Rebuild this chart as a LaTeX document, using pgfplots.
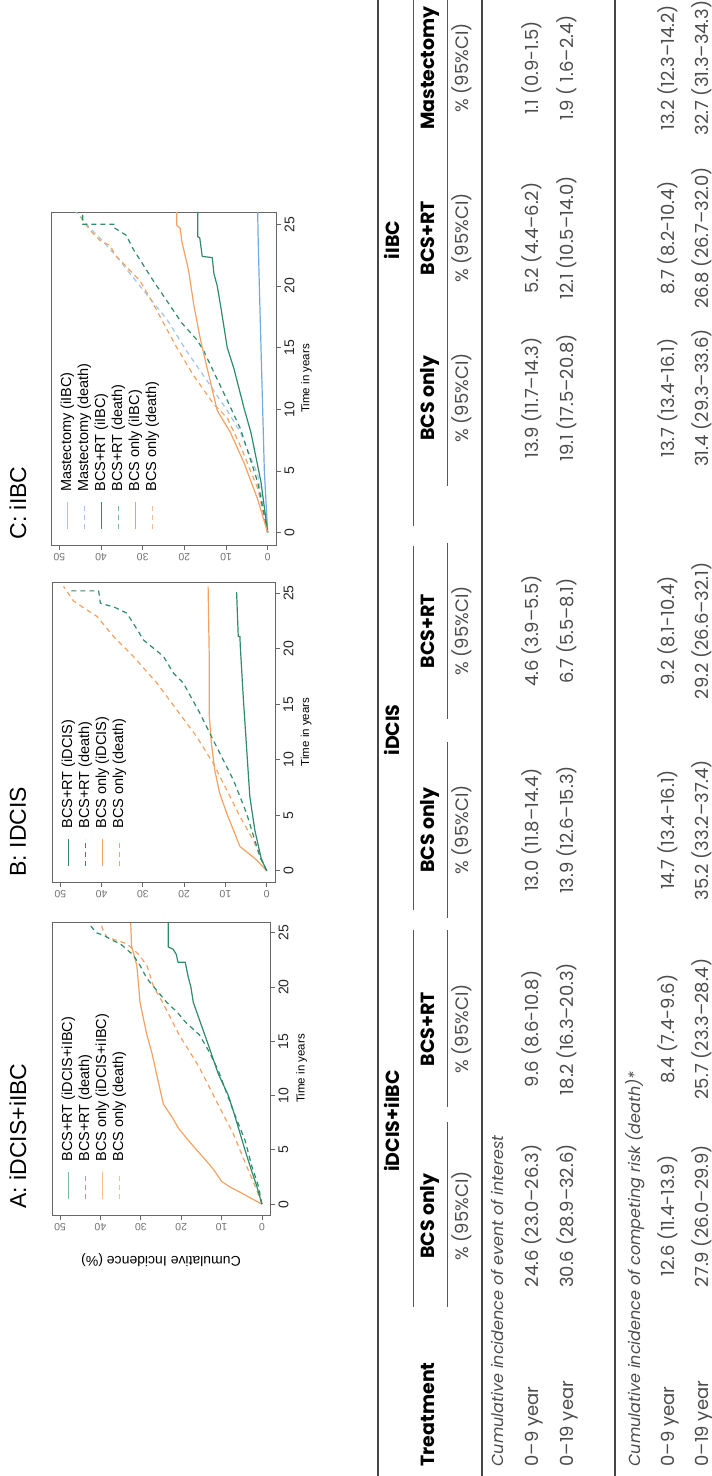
\documentclass[border=0pt]{standalone}
\usepackage{graphicx}
\usepackage{fontspec}
\usepackage{pgfplots}
\pgfplotsset{compat=1.18}
\newfontfamily\arial{Liberation Sans}
\newfontfamily\pop{Poppins}
\definecolor{cgreen}{RGB}{46,139,108}
\definecolor{corange}{RGB}{244,162,97}
\definecolor{cblue}{RGB}{116,169,222}
\definecolor{lgreen}{RGB}{120,186,160}
\definecolor{lorange}{RGB}{247,190,145}
\definecolor{lblue}{RGB}{160,196,236}
\definecolor{rulec}{RGB}{70,70,70}
\pgfplotsset{
  rplot/.style={
    scale only axis, anchor=origin,
    xmin=-1, xmax=26, ymin=-2, ymax=52,
    xtick={0,5,10,15,20,25}, ytick={0,10,20,30,40,50},
    tick pos=left, tick align=outside, major tick length=5pt,
    axis line style={draw=black!60, line width=0.8pt},
    tick style={draw=black!60, line width=0.8pt},
    /pgf/number format/assume math mode=true,
    xticklabel style={font=\arial\fontsize{14}{14}\selectfont, text=black!85},
    yticklabel style={font=\arial\fontsize{10.5}{10.5}\selectfont, text=black!55, rotate=90, anchor=south},
    legend image code/.code={\draw[#1] (0pt,0pt) -- (27pt,0pt);},
    legend cell align=left,
    legend style={draw=none, fill=none, inner sep=0pt, column sep=10pt, row sep=4pt,
      font=\arial\fontsize{14.5}{15}\selectfont,
      nodes={inner sep=0pt, text height=10pt, text depth=3pt, font=\arial\fontsize{14.5}{15}\selectfont}},
    every axis plot/.append style={line width=1.2pt, line join=round},
  },
  sol/.style={solid},
  das/.style={dash pattern=on 5pt off 4pt},
}
\begin{document}
\rotatebox{90}{%
\begin{tikzpicture}[x=1pt,y=1pt]
\path[use as bounding box] (0,0) rectangle (1476,-712);
\clip (0,0) rectangle (1476,-712);
% ---------- titles ----------
\node[anchor=west, font=\arial\fontsize{23}{23}\selectfont] at (264,-18) {A: iDCIS+iIBC};
\node[anchor=west, font=\arial\fontsize{23}{23}\selectfont] at (596,-18) {B: IDCIS};
\node[anchor=west, font=\arial\fontsize{23}{23}\selectfont] at (933,-18) {C: iIBC};
% ---------- panel A ----------
\begin{scope}[shift={(271.85,-261.93)}]
\begin{axis}[rplot, width=293pt, height=218pt,
  xlabel={Time in years},
  x label style={at={(axis description cs:0.5,-0.145)}, anchor=center, font=\arial\fontsize{11.5}{11.5}\selectfont},
  ylabel={Cumulative Incidence (\%)},
  y label style={at={(axis description cs:-0.154,0.5)}, anchor=center, font=\arial\fontsize{14}{14}\selectfont},
  legend style={at={(axis description cs:0.051,0.955)}, anchor=north west}]
\addlegendimage{lgreen, sol, line width=1.2pt}\addlegendentry{BCS+RT (iDCIS+iIBC)}
\addlegendimage{lgreen, das, line width=1.2pt}\addlegendentry{BCS+RT (death)}
\addlegendimage{lorange, sol, line width=1.2pt}\addlegendentry{BCS only (iDCIS+iIBC)}
\addlegendimage{lorange, das, line width=1.2pt}\addlegendentry{BCS only (death)}
\addplot[corange, sol, forget plot] coordinates {(0,0) (0.5,2.5) (1.1,5.4) (1.6,8) (2.1,10) (3.2,12) (4,13.8) (5,16.2) (6,18.5) (7,20.7) (8,22.2) (9.2,24.4) (10.5,25.2) (12,26.1) (14,27.3) (15.6,28.5) (17,29.3) (18.6,30.2) (20,30.5) (22,31) (23,31.7) (23.8,32.3) (25.9,32.5)};
\addplot[corange, das, forget plot] coordinates {(0,0) (1.5,1.5) (3.5,3.8) (6.5,7.1) (9.5,11.3) (12.6,15.5) (15.6,20.5) (18.6,24.6) (20,26.8) (22,28.5) (23,30.5) (24,33.5) (24.6,38.4) (25.2,39.3) (25.9,40)};
\addplot[cgreen, das, forget plot] coordinates {(0,0) (1.7,0.9) (3.5,2.5) (5.9,4.2) (8.6,7.1) (10,8.5) (12.3,10.8) (14,13) (15.6,15.5) (16.8,19) (17.7,21) (18.6,23.6) (20.8,28.5) (22,30.2) (23,32) (24,35.1) (24.3,37) (24.8,39.3) (25,41) (25.9,43)};
\addplot[cgreen, sol, forget plot] coordinates {(0,0) (1.7,1.3) (3,2.5) (5,4.2) (7,5.8) (8.6,7.1) (10,8.3) (12,10.8) (13.5,12.2) (14.7,13.3) (16.8,15.3) (18.6,17) (20,17.6) (21,18.3) (22.3,19) (22.3,20.8) (23,21.2) (23.5,22) (23.7,23.2) (25.9,23.2)};
\end{axis}
\end{scope}
% ---------- panel B ----------
\begin{scope}[shift={(605.11,-266.74)}]
\begin{axis}[rplot, width=300pt, height=223pt,
  xlabel={Time in years},
  x label style={at={(axis description cs:0.5,-0.14)}, anchor=center, font=\arial\fontsize{11.5}{11.5}\selectfont},
  legend style={at={(axis description cs:0.05,0.956)}, anchor=north west}]
\addlegendimage{cgreen, sol, line width=1.2pt}\addlegendentry{BCS+RT (iDCIS)}
\addlegendimage{cgreen, das, line width=1.2pt}\addlegendentry{BCS+RT (death)}
\addlegendimage{corange, sol, line width=1.2pt}\addlegendentry{BCS only (iDCIS)}
\addlegendimage{corange, das, line width=1.2pt}\addlegendentry{BCS only (death)}
\addplot[corange, sol, forget plot] coordinates {(0,0) (1,2.5) (2.2,6.5) (3.7,8.1) (5.2,9.7) (7,11.4) (9.1,12.6) (11.5,13.4) (13.9,13.9) (18.7,13.9) (25.6,14.2)};
\addplot[corange, das, forget plot] coordinates {(0,0) (2.8,3.3) (4.9,6.5) (7.3,9.7) (9.7,13) (12.1,17) (14.5,21.8) (16.9,26.6) (19.3,32.3) (21.1,37.1) (22.9,41.1) (23.7,44.4) (24.3,46.8) (25.6,49.2)};
\addplot[cgreen, das, forget plot] coordinates {(0,0) (1.2,1.6) (5.2,4.9) (8.2,8.1) (11.8,13) (14.2,16.2) (16.9,20.2) (17.8,22.6) (19.3,25) (20.8,29.9) (21.5,31) (23.2,33.9) (23.7,36.7) (24.1,40.3) (25.2,40.7) (25.2,47.6)};
\addplot[cgreen, sol, forget plot] coordinates {(0,0) (1.05,1.3) (3.7,2.9) (6.7,4.1) (11.2,4.9) (15.7,5.7) (20.2,6.4) (21.1,6.5) (21.1,6.9) (25.1,7.3)};
\end{axis}
\end{scope}
% ---------- panel C ----------
\begin{scope}[shift={(943.33,-267.67)}]
\begin{axis}[rplot, width=333pt, height=225pt,
  xlabel={Time in years},
  x label style={at={(axis description cs:0.5,-0.135)}, anchor=center, font=\arial\fontsize{11.5}{11.5}\selectfont},
  legend style={at={(axis description cs:0.045,0.956)}, anchor=north west}]
\addlegendimage{lblue, sol, line width=1.2pt}\addlegendentry{Mastectomy (iIBC)}
\addlegendimage{lblue, das, line width=1.2pt}\addlegendentry{Mastectomy (death)}
\addlegendimage{cgreen, sol, line width=1.2pt}\addlegendentry{BCS+RT (iIBC)}
\addlegendimage{lgreen, das, line width=1.2pt}\addlegendentry{BCS+RT (death)}
\addlegendimage{corange, sol, line width=1.2pt}\addlegendentry{BCS only (iIBC)}
\addlegendimage{lorange, das, line width=1.2pt}\addlegendentry{BCS only (death)}
\addplot[cblue, sol, forget plot] coordinates {(0,0) (5,0.8) (10,1.2) (15,1.6) (20,2) (24.1,2.3) (26,2.4)};
\addplot[lblue, das, forget plot] coordinates {(0,0) (4.7,2.4) (8.1,6.5) (9.9,9.7) (11.9,13.7) (14.7,19.4) (17.3,24.2) (19.3,29) (20.7,32.3) (22.4,36.3) (23.9,40.3) (24.7,42.7) (26,46)};
\addplot[corange, das, forget plot] coordinates {(0,0) (3.6,2.4) (7,6.5) (9.3,9.7) (10.4,12.9) (12.7,17.7) (15,21.8) (17,25) (19,28.2) (20.4,30.6) (22.4,36.3) (23.3,37.9) (23.7,40.3) (24.4,42.3) (25.3,44.4) (25.9,45.2)};
\addplot[cgreen, das, forget plot] coordinates {(0,0) (4.1,2.4) (8.4,6.5) (11.3,10.5) (14.7,15.3) (15.6,16.9) (17,20.6) (19,24.6) (20.4,27.4) (22.1,30.6) (23,32.3) (24.1,33.9) (24.7,36.7) (25,36.7) (25,44.4) (25.9,44.4)};
\addplot[cgreen, sol, forget plot] coordinates {(0,0) (4.1,1.6) (8.1,4) (10,5.6) (13.3,8.1) (15,9.7) (18.4,11.3) (20,12.1) (21,12.9) (22.3,13.3) (22.4,15.7) (23.9,16.3) (24,16.8) (26,16.8)};
\addplot[corange, sol, forget plot] coordinates {(0,0) (2.7,2.4) (5.6,5.6) (8.1,8.9) (9.9,12.1) (13.3,14.5) (15.6,16.1) (18.4,17.7) (21.3,19) (23.6,20.6) (24.7,21) (24.9,21.8) (26,21.8)};
\end{axis}
\end{scope}
% ---------- table ----------
\draw[rulec, line width=1.6pt] (0,-378) -- (1476,-378);
\draw[rulec, line width=1.2pt] (0,-482) -- (1476,-482);
\draw[rulec, line width=1.2pt] (0,-615) -- (1476,-615);
\begin{scope}[draw=black!65, line width=0.9pt]
\draw (169,-413) -- (546,-413);
\draw (566,-413) -- (930,-413);
\draw (950,-413) -- (1476,-413);
\draw (169,-447) -- (354,-447);
\draw (369,-447) -- (546,-447);
\foreach \c in {646,845,1078,1238,1408}{\draw (\c-88,-447) -- (\c+88,-447);}
\end{scope}
\begin{scope}[every node/.style={font=\pop\fontsize{18}{18}\selectfont, text=black!70, anchor=mid}]
\node[font=\pop\bfseries\fontsize{19}{19}\selectfont, text=black] at (355,-397) {iDCIS+iIBC};
\node[font=\pop\bfseries\fontsize{19}{19}\selectfont, text=black] at (746,-397) {iDCIS};
\node[font=\pop\bfseries\fontsize{19}{19}\selectfont, text=black] at (1236,-397) {iIBC};
\node[font=\pop\bfseries\fontsize{19}{19}\selectfont, text=black, anchor=mid west] at (6,-432) {Treatment};
\foreach \c/\t in {260/BCS only,447/BCS+RT,646/BCS only,845/BCS+RT,1078/BCS only,1238/BCS+RT,1408/Mastectomy}{
  \node[font=\pop\bfseries\fontsize{19}{19}\selectfont, text=black] at (\c,-432) {\t};
  \node at (\c,-466) {\% (95\%CI)};
}
\node[font=\pop\itshape\fontsize{16}{16}\selectfont, anchor=mid west] at (6,-501) {Cumulative incidence of event of interest};
\node[font=\pop\itshape\fontsize{16}{16}\selectfont, anchor=mid west] at (6,-638) {Cumulative incidence of competing risk (death)*};
\node[anchor=mid west] at (6,-536) {0–9 year};
\node[anchor=mid west] at (6,-571) {0–19 year};
\node[anchor=mid west] at (6,-672) {0–9 year};
\node[anchor=mid west] at (6,-706) {0–19 year};
% row 1
\node at (260,-536) {24.6 (23.0–26.3)};
\node at (447,-536) {9.6 (8.6-10.8)};
\node at (646,-536) {13.0 (11.8–14.4)};
\node at (845,-536) {4.6 (3.9–5.5)};
\node at (1078,-536) {13.9 (11.7–14.3)};
\node at (1238,-536) {5.2 (4.4–6.2)};
\node at (1408,-536) {1.1 (0.9-1.5)};
% row 2
\node at (260,-571) {30.6 (28.9–32.6)};
\node at (447,-571) {18.2 (16.3–20.3)};
\node at (646,-571) {13.9 (12.6–15.3)};
\node at (845,-571) {6.7 (5.5–8.1)};
\node at (1078,-571) {19.1 (17.5–20.8)};
\node at (1238,-571) {12.1 (10.5–14.0)};
\node at (1408,-571) {1.9 ( 1.6–2.4)};
% row 3
\node at (260,-672) {12.6 (11.4-13.9)};
\node at (447,-672) {8.4 (7.4-9.6)};
\node at (646,-672) {14.7 (13.4-16.1)};
\node at (845,-672) {9.2 (8.1-10.4)};
\node at (1078,-672) {13.7 (13.4-16.1)};
\node at (1238,-672) {8.7 (8.2-10.4)};
\node at (1408,-672) {13.2 (12.3–14.2)};
% row 4
\node at (260,-706) {27.9 (26.0–29.9)};
\node at (447,-706) {25.7 (23.3–28.4)};
\node at (646,-706) {35.2 (33.2–37.4)};
\node at (845,-706) {29.2 (26.6–32.1)};
\node at (1078,-706) {31.4 (29.3–33.6)};
\node at (1238,-706) {26.8 (26.7–32.0)};
\node at (1408,-706) {32.7 (31.3–34.3)};
\end{scope}
\end{tikzpicture}}
\end{document}
